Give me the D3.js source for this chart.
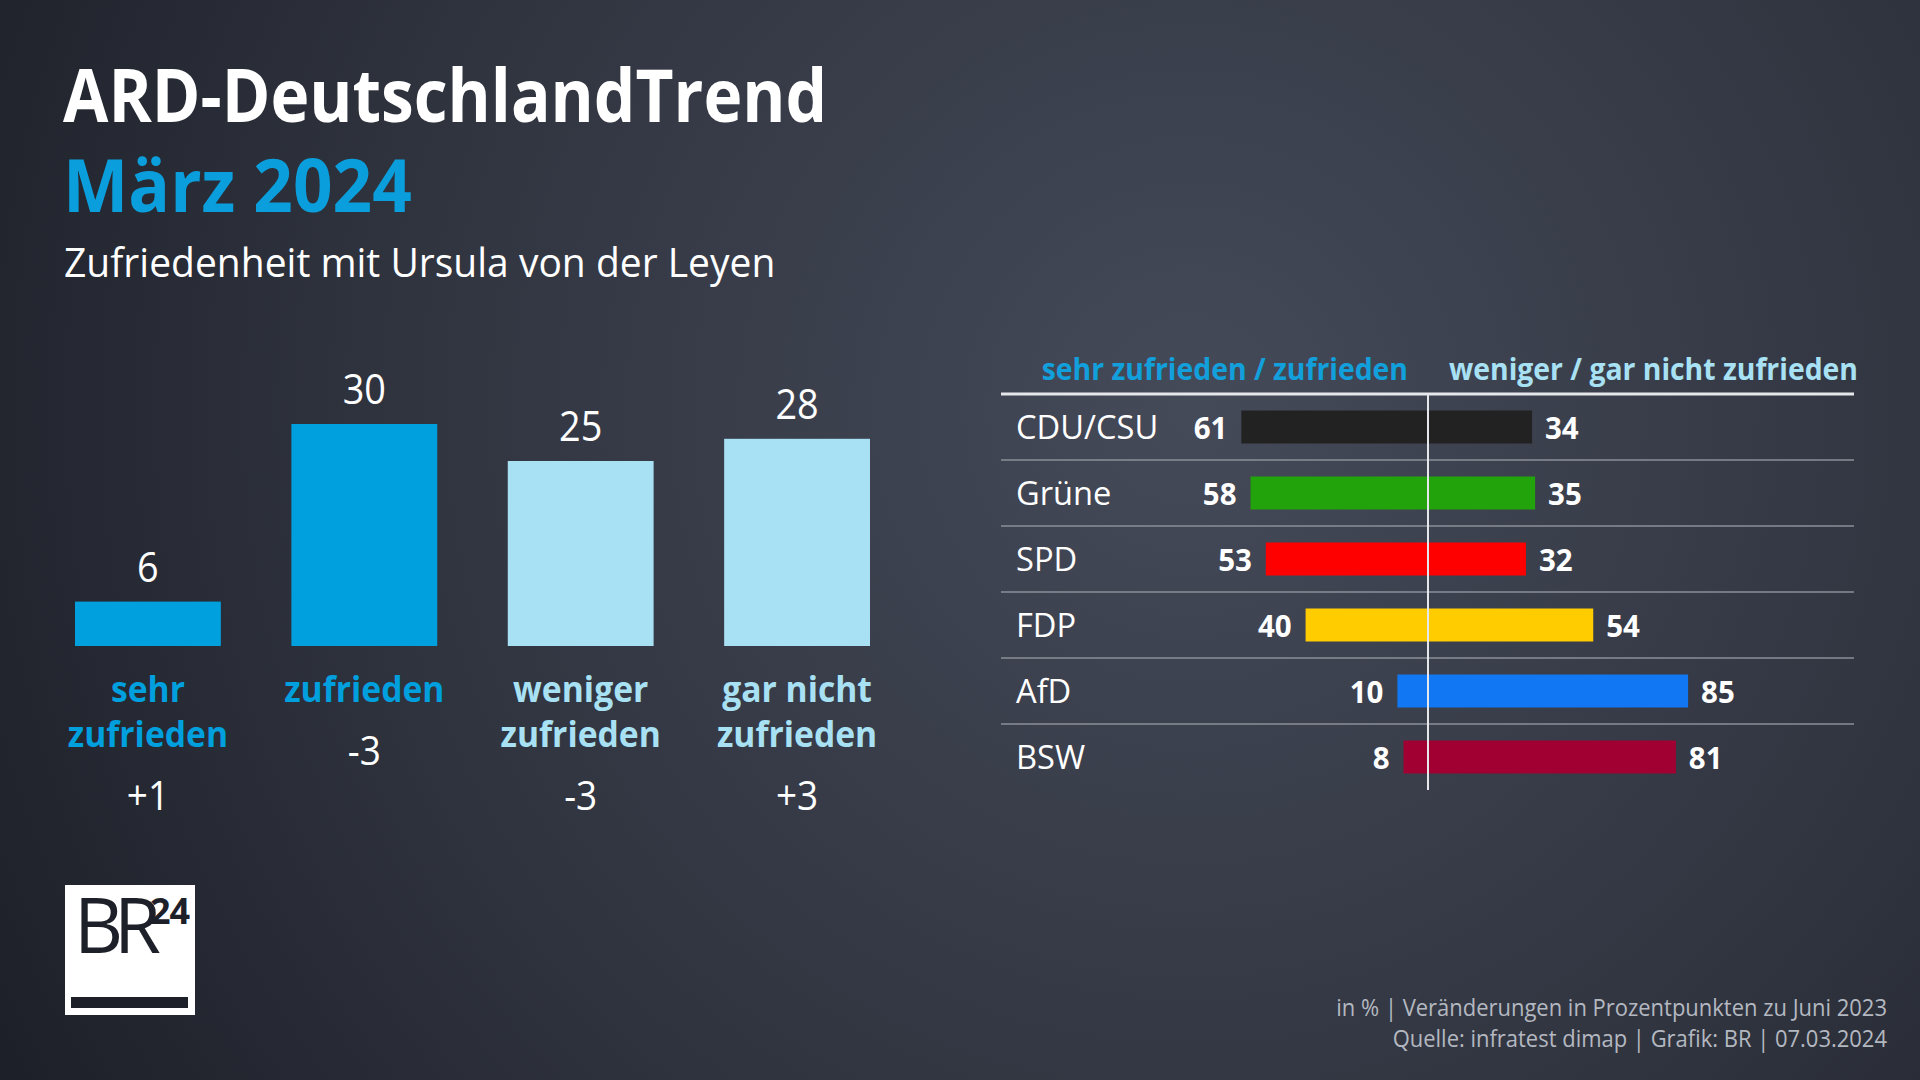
<!DOCTYPE html>
<html><head><meta charset="utf-8">
<script src="https://cdn.jsdelivr.net/npm/d3@7"></script>
<style>html,body{margin:0;padding:0;background:#272a35;} svg{display:block;} text{font-family:"Open Sans",sans-serif;}</style>
</head><body>
<svg id="c" width="1920" height="1080"></svg>
<script>
// ---------- data ----------
const categories = ["sehr zufrieden", "zufrieden", "weniger zufrieden", "gar nicht zufrieden"];
const categoryLines = [["sehr", "zufrieden"], ["zufrieden"], ["weniger", "zufrieden"], ["gar nicht", "zufrieden"]];
const values = [6, 30, 25, 28];
const changes = ["+1", "-3", "-3", "+3"];
const categoryColors = ["#009fde", "#009fde", "#a9e1f4", "#a9e1f4"];

const parties = ["CDU/CSU", "Grüne", "SPD", "FDP", "AfD", "BSW"];
const satisfied = [61, 58, 53, 40, 10, 8];
const dissatisfied = [34, 35, 32, 54, 85, 81];
const partyColors = ["#222222", "#22a30c", "#ff0000", "#ffcc00", "#1277f2", "#a10033"];

const title = "ARD-DeutschlandTrend";
const subtitleDate = "März 2024";
const subtitle = "Zufriedenheit mit Ursula von der Leyen";
const headerLeft = "sehr zufrieden / zufrieden";
const headerRight = "weniger / gar nicht zufrieden";
const footer = ["in % | Veränderungen in Prozentpunkten zu Juni 2023", "Quelle: infratest dimap | Grafik: BR | 07.03.2024"];

// ---------- setup ----------
const svg = d3.select("#c");
const defs = svg.append("defs");
const grad = defs.append("radialGradient").attr("id", "bg")
  .attr("cx", "0.62").attr("cy", "0.38").attr("r", "0.75")
  .attr("gradientTransform", "translate(0.62,0.38) scale(1,1.78) translate(-0.62,-0.38)");
grad.append("stop").attr("offset", "0").attr("stop-color", "#454a59");
grad.append("stop").attr("offset", "0.55").attr("stop-color", "#30343f");
grad.append("stop").attr("offset", "1").attr("stop-color", "#1a1d25");
svg.append("rect").attr("width", 1920).attr("height", 1080).attr("fill", "url(#bg)");

function condense(sel, k) {
  sel.each(function () {
    const L = this.getComputedTextLength();
    this.setAttribute("textLength", L * k);
    this.setAttribute("lengthAdjust", "spacingAndGlyphs");
  });
  return sel;
}

// ---------- titles ----------
condense(svg.append("text").attr("x", 63).attr("y", 122).attr("fill", "#ffffff")
  .attr("font-size", 74).attr("font-weight", 700).text(title), 0.889);
condense(svg.append("text").attr("x", 63).attr("y", 212).attr("fill", "#0a9fdc")
  .attr("font-size", 74).attr("font-weight", 700).text(subtitleDate), 0.936);
condense(svg.append("text").attr("x", 64).attr("y", 277).attr("fill", "#ffffff")
  .attr("font-size", 40).attr("font-weight", 400).text(subtitle), 0.975);

// ---------- left bar chart ----------
const xL = d3.scaleBand().domain(categories).range([75, 870]).paddingInner(0.326).paddingOuter(0);
const yL = d3.scaleLinear().domain([0, 30]).range([646, 424]);

const gL = svg.append("g");
gL.selectAll("rect.bar").data(categories).join("rect").attr("class", "bar")
  .attr("x", d => xL(d)).attr("width", xL.bandwidth())
  .attr("y", (d, i) => yL(values[i])).attr("height", (d, i) => yL(0) - yL(values[i]))
  .attr("fill", (d, i) => categoryColors[i]);

condense(gL.selectAll("text.val").data(categories).join("text").attr("class", "val")
  .attr("x", d => xL(d) + xL.bandwidth() / 2).attr("y", (d, i) => yL(values[i]) - 20)
  .attr("text-anchor", "middle").attr("fill", "#fff").attr("font-size", 42)
  .text((d, i) => values[i]), 0.9);

categories.forEach((c, i) => {
  const cx = xL(c) + xL.bandwidth() / 2;
  categoryLines[i].forEach((ln, j) => {
    condense(gL.append("text").attr("x", cx).attr("y", 702 + j * 45)
      .attr("text-anchor", "middle").attr("fill", categoryColors[i])
      .attr("font-size", 36).attr("font-weight", 700).text(ln), 0.935);
  });
  const last = 702 + (categoryLines[i].length - 1) * 45;
  condense(gL.append("text").attr("x", cx).attr("y", last + 63)
    .attr("text-anchor", "middle").attr("fill", "#fff").attr("font-size", 41)
    .text(changes[i]), 0.9);
});

// ---------- right diverging chart ----------
const xR = d3.scaleLinear().domain([-100, 100]).range([1122, 1734]);
const yR = d3.scaleBand().domain(parties).range([394, 790]);
const barH = 33;
const gR = svg.append("g");

condense(gR.append("text").attr("x", 1408).attr("y", 380).attr("text-anchor", "end")
  .attr("fill", "#12a0dc").attr("font-size", 30).attr("font-weight", 700).text(headerLeft), 0.945);
condense(gR.append("text").attr("x", 1449).attr("y", 380).attr("text-anchor", "start")
  .attr("fill", "#a9e1f4").attr("font-size", 30).attr("font-weight", 700).text(headerRight), 0.945);

gR.append("line").attr("x1", 1001).attr("x2", 1854).attr("y1", 394).attr("y2", 394)
  .attr("stroke", "#e6e7ea").attr("stroke-width", 3);
gR.selectAll("line.sep").data(parties.slice(1)).join("line").attr("class", "sep")
  .attr("x1", 1001).attr("x2", 1854).attr("y1", d => yR(d)).attr("y2", d => yR(d))
  .attr("stroke", "#8b8f99").attr("stroke-width", 1.5);

gR.selectAll("rect.pbar").data(parties).join("rect").attr("class", "pbar")
  .attr("x", (d, i) => xR(-satisfied[i]))
  .attr("width", (d, i) => xR(dissatisfied[i]) - xR(-satisfied[i]))
  .attr("y", d => yR(d) + yR.bandwidth() / 2 - barH / 2).attr("height", barH)
  .attr("fill", (d, i) => partyColors[i]);

condense(gR.selectAll("text.party").data(parties).join("text").attr("class", "party")
  .attr("x", 1016).attr("y", d => yR(d) + yR.bandwidth() / 2 + 12)
  .attr("fill", "#fff").attr("font-size", 32).text(d => d), 1.02);

condense(gR.selectAll("text.sat").data(parties).join("text").attr("class", "sat")
  .attr("x", (d, i) => xR(-satisfied[i]) - 14).attr("y", d => yR(d) + yR.bandwidth() / 2 + 12)
  .attr("text-anchor", "end").attr("fill", "#fff").attr("font-size", 31).attr("font-weight", 700)
  .text((d, i) => satisfied[i]), 0.95);
condense(gR.selectAll("text.dis").data(parties).join("text").attr("class", "dis")
  .attr("x", (d, i) => xR(dissatisfied[i]) + 13).attr("y", d => yR(d) + yR.bandwidth() / 2 + 12)
  .attr("text-anchor", "start").attr("fill", "#fff").attr("font-size", 31).attr("font-weight", 700)
  .text((d, i) => dissatisfied[i]), 0.95);

gR.append("line").attr("x1", xR(0)).attr("x2", xR(0)).attr("y1", 394).attr("y2", 790)
  .attr("stroke", "#e6e7ea").attr("stroke-width", 2);

// ---------- footer ----------
footer.forEach((t, i) => {
  condense(svg.append("text").attr("x", 1887).attr("y", 1016 + i * 31).attr("text-anchor", "end")
    .attr("fill", "#b4b8c0").attr("font-size", 23).text(t), 0.955);
});

// ---------- logo ----------
const logo = svg.append("g");
logo.append("rect").attr("x", 65).attr("y", 885).attr("width", 130).attr("height", 130).attr("fill", "#fff");
logo.append("text").attr("x", 74).attr("y", 953).attr("fill", "#1e2029").attr("font-size", 76)
  .attr("font-weight", 500).attr("letter-spacing", -9).text("BR");
logo.append("text").attr("x", 150).attr("y", 924).attr("fill", "#1e2029").attr("font-size", 36)
  .attr("font-weight", 700).attr("letter-spacing", -1).text("24");
logo.append("rect").attr("x", 71).attr("y", 997).attr("width", 117).attr("height", 11).attr("fill", "#1e2029");
</script>
</body></html>
